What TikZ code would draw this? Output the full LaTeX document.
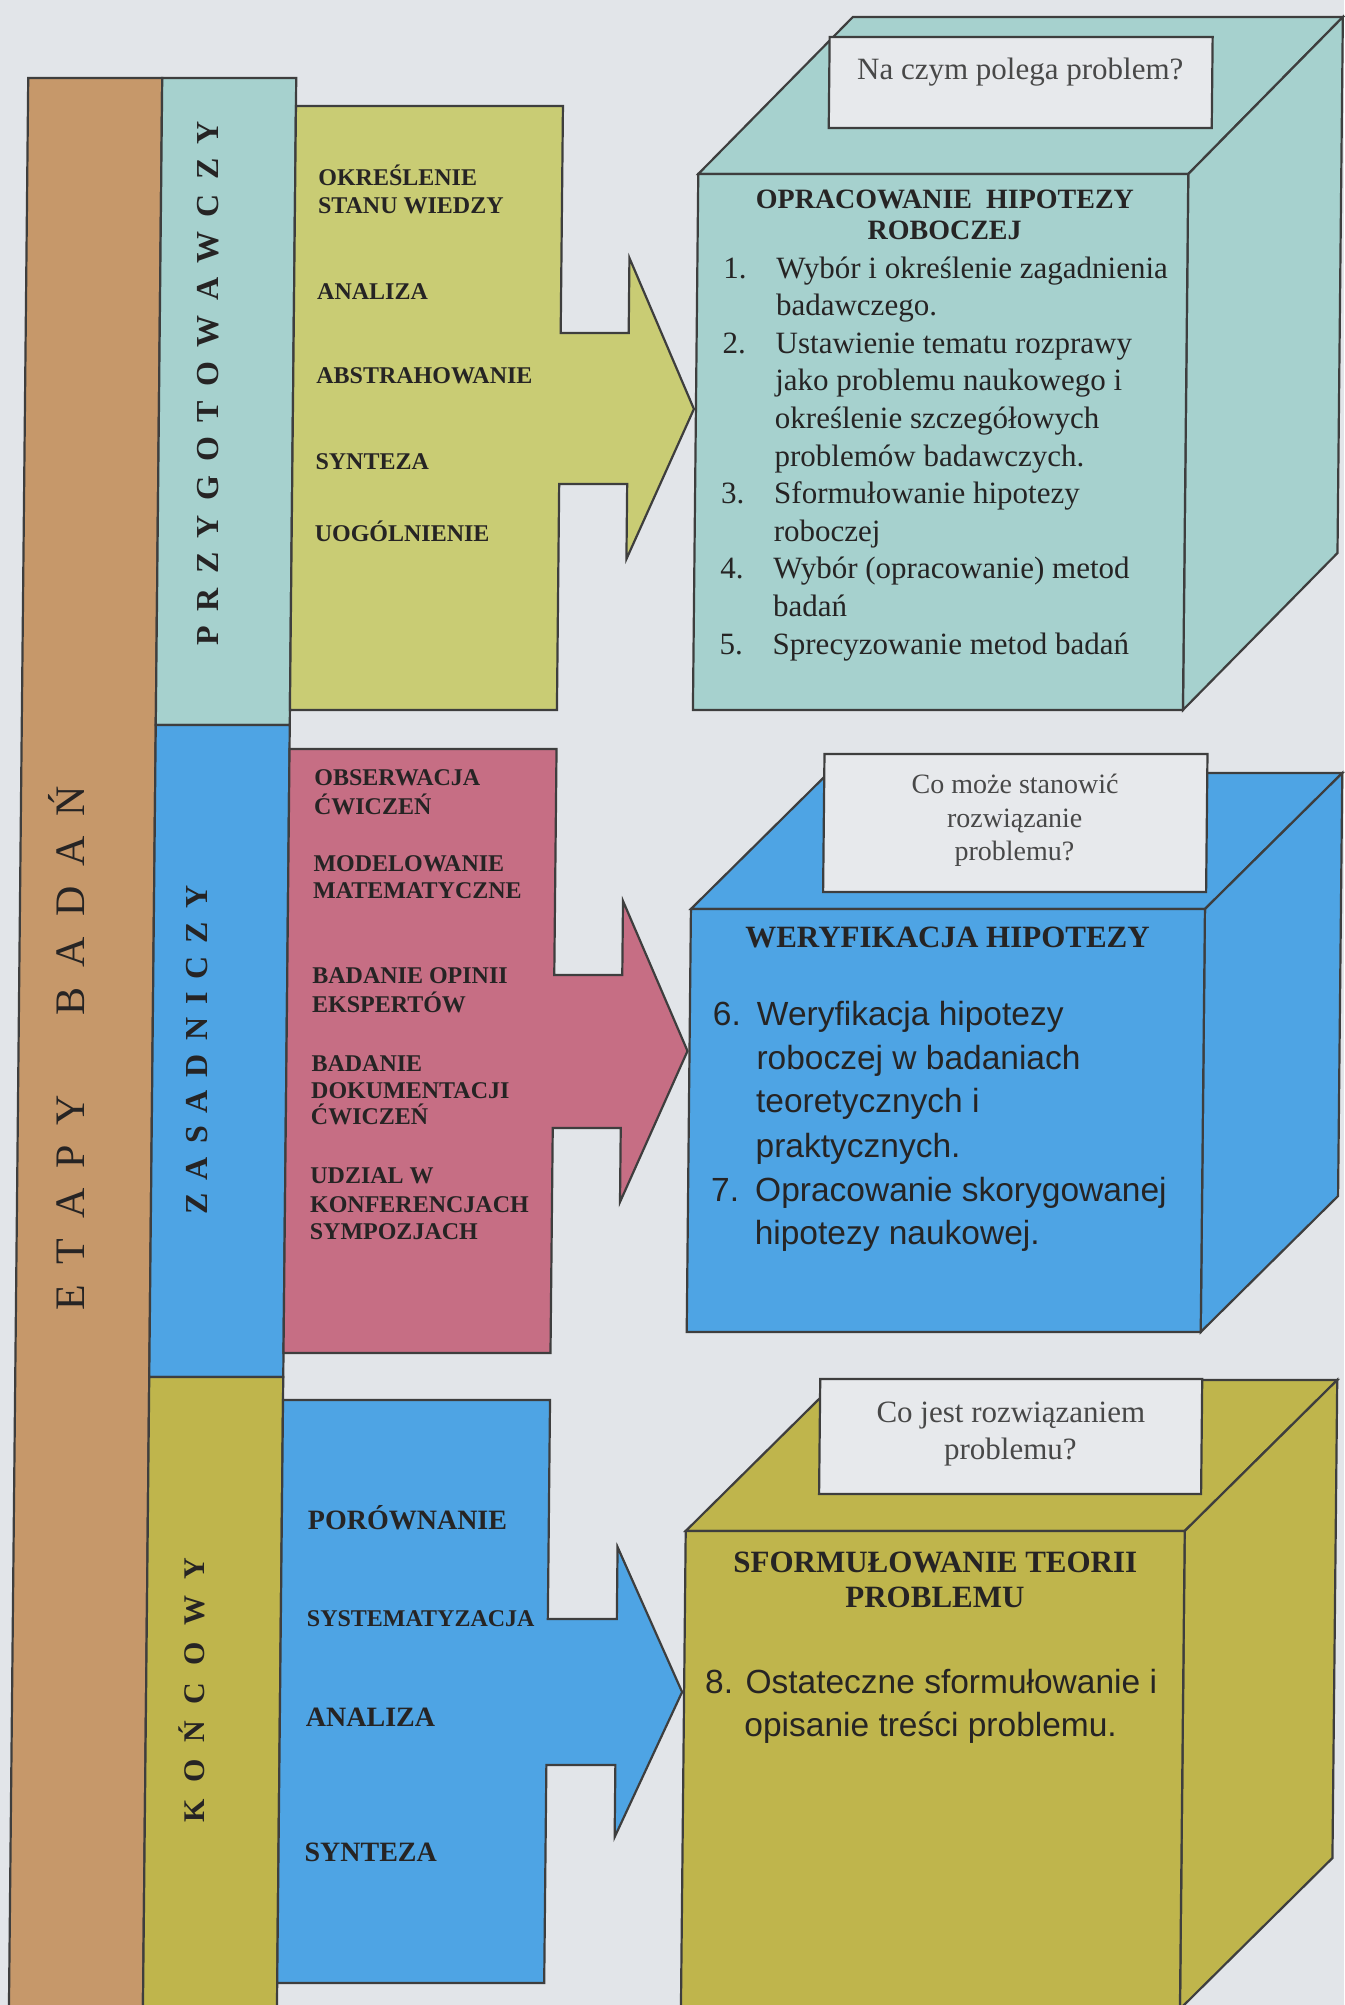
\documentclass[tikz,border=0pt]{standalone}
\usepackage{fontspec}
\setmainfont{Liberation Serif}
\newfontfamily\sansfam{Liberation Sans}

\definecolor{paper}{RGB}{226,229,233}
\definecolor{bandbrown}{RGB}{198,152,106}
\definecolor{tealface}{RGB}{166,209,206}
\definecolor{limeface}{RGB}{201,204,116}
\definecolor{skyface}{RGB}{78,164,228}
\definecolor{roseface}{RGB}{198,110,132}
\definecolor{oliveface}{RGB}{191,181,76}
\definecolor{qfill}{RGB}{231,233,236}
\definecolor{edgegray}{RGB}{62,62,62}
\definecolor{ink}{RGB}{38,36,36}
\definecolor{qink}{RGB}{72,72,72}

\begin{document}
\begin{tikzpicture}[x=1pt, y=-1pt,
  edge/.style={draw=edgegray, line width=2.2pt, line join=miter},
  listcaps/.style={anchor=base west, inner sep=0pt, text=ink, font=\bfseries\fontsize{24}{28}\selectfont},
  listcapsbig/.style={listcaps, font=\bfseries\fontsize{28}{32}\selectfont},
  phaselabel/.style={anchor=base, inner sep=0pt, rotate=90, text=ink},
  cubehead/.style={anchor=base, inner sep=0pt, text=ink, font=\bfseries\fontsize{28}{32}\selectfont},
  cubeheadbig/.style={cubehead, font=\bfseries\fontsize{31}{35}\selectfont},
  serifline/.style={anchor=base west, inner sep=0pt, text=ink, font=\fontsize{31}{37}\selectfont},
  sansline/.style={anchor=base west, inner sep=0pt, text=ink, font=\sansfam\fontsize{33.5}{40}\selectfont},
  sanscentre/.style={anchor=base, inner sep=0pt, text=ink, font=\sansfam\fontsize{33.5}{40}\selectfont},
  question/.style={anchor=base, inner sep=0pt, text=qink, font=\fontsize{31}{36}\selectfont},
  questionsmall/.style={question, font=\fontsize{28}{33}\selectfont},
]
% page
\fill[paper] (0,0) rectangle (1344,2005);
\useasboundingbox (0,0) rectangle (1344,2005);

% the whole sheet leans slightly
\begin{scope}[shift={(0,1002)}, xslant=0.010, shift={(0,-1002)}]

% ---------- left bands ----------
\draw[edge, fill=bandbrown] (19,78) rectangle (153,2040);
\draw[edge, fill=tealface] (153,78) rectangle (287,725);
\draw[edge, fill=skyface] (153,725) rectangle (287,1377);
\draw[edge, fill=oliveface] (153,1377) rectangle (287,2040);

\node[phaselabel, font=\fontsize{42}{46}\selectfont] (etapy) at (85,1048)
  {\makebox[524pt]{E\hfill T\hfill A\hfill P\hfill Y\hfill\hfill\hfill\hfill B\hfill A\hfill D\hfill A\hfill Ń}};
\node[phaselabel, font=\bfseries\fontsize{32}{36}\selectfont] (prep) at (212,383)
  {\makebox[524pt]{P\hfill R\hfill Z\hfill Y\hfill G\hfill O\hfill T\hfill O\hfill W\hfill A\hfill W\hfill C\hfill Z\hfill Y}};
\node[phaselabel, font=\bfseries\fontsize{32}{36}\selectfont] (main) at (208,1050)
  {\makebox[329pt]{Z\hfill A\hfill S\hfill A\hfill D\hfill N\hfill I\hfill C\hfill Z\hfill Y}};
\node[phaselabel, font=\bfseries\fontsize{30}{34}\selectfont] (final) at (211,1690)
  {\makebox[265pt]{K\hfill O\hfill Ń\hfill C\hfill O\hfill W\hfill Y}};

% ---------- block arrows ----------
\draw[edge, fill=limeface] (287,106) -- (554,106) -- (554,333) -- (622,333) -- (622,258)
  -- (688,409) -- (622,559) -- (622,484) -- (554,484) -- (554,710) -- (287,710) -- cycle;
\draw[edge, fill=roseface] (287,749) -- (554,749) -- (554,975) -- (622,975) -- (622,901)
  -- (688,1051) -- (622,1202) -- (622,1128) -- (554,1128) -- (554,1353) -- (287,1353) -- cycle;
\draw[edge, fill=skyface] (287,1400) -- (554,1400) -- (554,1619) -- (623,1619) -- (623,1547)
  -- (689,1692) -- (623,1837) -- (623,1765) -- (554,1765) -- (554,1983) -- (287,1983) -- cycle;

% ---------- cubes ----------
% first cube
\draw[edge, fill=tealface] (690,174) -- (843,17) -- (1333,17) -- (1180,174) -- cycle;
\draw[edge, fill=tealface] (1180,174) -- (1333,17) -- (1333,553) -- (1180,710) -- cycle;
\draw[edge, fill=tealface] (690,174) rectangle (1180,710);
% second cube
\draw[edge, fill=skyface] (690,909) -- (826,773) -- (1340,773) -- (1204,909) -- cycle;
\draw[edge, fill=skyface] (1204,909) -- (1340,773) -- (1340,1196) -- (1204,1332) -- cycle;
\draw[edge, fill=skyface] (690,909) rectangle (1204,1332);
% third cube
\draw[edge, fill=oliveface] (691,1531) -- (842,1380) -- (1341,1380) -- (1190,1531) -- cycle;
\draw[edge, fill=oliveface] (1190,1531) -- (1341,1380) -- (1341,1858) -- (1190,2009) -- cycle;
\draw[edge, fill=oliveface] (691,1531) rectangle (1190,2040);

% question boxes
\draw[edge, fill=qfill] (820,37) rectangle (1203,128);
\draw[edge, fill=qfill] (822,754) rectangle (1205,892);
\draw[edge, fill=qfill] (824,1379) rectangle (1206,1494);

% ---------- arrow texts ----------
\node[listcaps] (p1a) at (310,185) {OKREŚLENIE};
\node[listcaps] (p1b) at (310,213) {STANU WIEDZY};
\node[listcaps] (p2) at (310,299) {ANALIZA};
\node[listcaps] (p3) at (310,383) {ABSTRAHOWANIE};
\node[listcaps] (p4) at (310,469) {SYNTEZA};
\node[listcaps] (p5) at (310,541) {UOGÓLNIENIE};

\node[listcaps] (m1a) at (312,785) {OBSERWACJA};
\node[listcaps] (m1b) at (312,814) {ĆWICZEŃ};
\node[listcaps] (m2a) at (312,871) {MODELOWANIE};
\node[listcaps] (m2b) at (312,898) {MATEMATYCZNE};
\node[listcaps] (m3a) at (312,983) {BADANIE OPINII};
\node[listcaps] (m3b) at (312,1012) {EKSPERTÓW};
\node[listcaps] (m4a) at (312,1071) {BADANIE};
\node[listcaps] (m4b) at (312,1098) {DOKUMENTACJI};
\node[listcaps] (m4c) at (312,1124) {ĆWICZEŃ};
\node[listcaps] (m5a) at (312,1183) {UDZIAL W};
\node[listcaps] (m5b) at (312,1212) {KONFERENCJACH};
\node[listcaps] (m5c) at (312,1239) {SYMPOZJACH};

\node[listcapsbig] (f1) at (313,1529) {PORÓWNANIE};
\node[listcaps] (f2) at (313,1626) {SYSTEMATYZACJA};
\node[listcapsbig] (f3) at (313,1726) {ANALIZA};
\node[listcapsbig] (f4) at (313,1861) {SYNTEZA};

% ---------- first cube texts ----------
\node[question] (q1) at (1011,79) {Na czym polega problem?};
\node[cubehead] (h1a) at (937,208) {OPRACOWANIE\ \ HIPOTEZY};
\node[cubehead] (h1b) at (937,239) {ROBOCZEJ};
\node[serifline] (n1) at (716,278) {1.};
\node[serifline] (t1a) at (769,278) {Wybór i określenie zagadnienia};
\node[serifline] (t1b) at (769,315.6) {badawczego.};
\node[serifline] (n2) at (716,353.2) {2.};
\node[serifline] (t2a) at (769,353.2) {Ustawienie tematu rozprawy};
\node[serifline] (t2b) at (769,390.8) {jako problemu naukowego i};
\node[serifline] (t2c) at (769,428.4) {określenie szczegółowych};
\node[serifline] (t2d) at (769,466) {problemów badawczych.};
\node[serifline] (n3) at (716,503.6) {3.};
\node[serifline] (t3a) at (769,503.6) {Sformułowanie hipotezy};
\node[serifline] (t3b) at (769,541.2) {roboczej};
\node[serifline] (n4) at (716,578.8) {4.};
\node[serifline] (t4a) at (769,578.8) {Wybór (opracowanie) metod};
\node[serifline] (t4b) at (769,616.4) {badań};
\node[serifline] (n5) at (716,654) {5.};
\node[serifline] (t5a) at (769,654) {Sprecyzowanie metod badań};

% ---------- second cube texts ----------
\node[questionsmall] (q2a) at (1013,793) {Co może stanowić};
\node[questionsmall] (q2b) at (1013,827) {rozwiązanie};
\node[questionsmall] (q2c) at (1013,860) {problemu?};
\node[cubeheadbig] (h2) at (947,947) {WERYFIKACJA HIPOTEZY};
\node[sansline] (n6) at (713,1025) {6.};
\node[sansline] (t6a) at (757,1025) {Weryfikacja hipotezy};
\node[sansline] (t6b) at (757,1069) {roboczej w badaniach};
\node[sansline] (t6c) at (757,1112) {teoretycznych i};
\node[sansline] (t6d) at (757,1157) {praktycznych.};
\node[sansline] (n7) at (713,1201) {7.};
\node[sansline] (t7a) at (757,1201) {Opracowanie skorygowanej};
\node[sansline] (t7b) at (757,1244) {hipotezy naukowej.};

% ---------- third cube texts ----------
\node[question] (q3a) at (1015,1422) {Co jest rozwiązaniem};
\node[question] (q3b) at (1015,1459) {problemu?};
\node[cubeheadbig] (h3a) at (941,1572) {SFORMUŁOWANIE TEORII};
\node[cubeheadbig] (h3b) at (941,1607) {PROBLEMU};
\node[sanscentre] (t8a) at (938,1693) {8. Ostateczne sformułowanie i};
\node[sanscentre] (t8b) at (938,1736) {opisanie treści problemu.};

\end{scope}
\end{tikzpicture}
\end{document}
